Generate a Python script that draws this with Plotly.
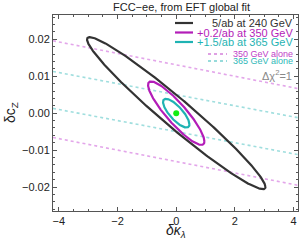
import numpy as np
import plotly.graph_objects as go

# ---- data ----
# Delta chi^2 = 1 ellipses: (label, sigma_kl, sigma_cz, correlation)
ell_labels = ["5/ab at 240 GeV", "+0.2/ab at 350 GeV", "+1.5/ab at 365 GeV"]
ell_sig_kl = [3.04, 0.96, 0.45]
ell_sig_cz = [0.0206, 0.0086, 0.0039]
ell_rho = [-0.97, -0.89, -0.78]
ell_colors = ["#333333", "#b31db8", "#1fb3b3"]

# single-energy bands: y = slope*x +/- halfwidth
band_labels = ["350 GeV alone", "365 GeV alone"]
band_slope = [-0.00155, -0.0015]
band_halfwidth = [0.0131, 0.0050]
band_colors = ["#e3a6ea", "#9fdede"]

best_fit = [0.0, 0.0]

x_range = [-4.2, 4.15]
y_range = [-0.0265, 0.0266]
x_ticks = [-4, -2, 0, 2, 4]
y_ticks = [-0.02, -0.01, 0.0, 0.01, 0.02]

fig = go.Figure()

for s, h, c in zip(band_slope, band_halfwidth, band_colors):
    xs = np.array(x_range)
    for sign in (1, -1):
        fig.add_trace(go.Scatter(x=xs, y=s * xs + sign * h, mode="lines",
                                 line=dict(color=c, width=1.6, dash="dot"),
                                 showlegend=False, hoverinfo="skip"))

t = np.linspace(0, 2 * np.pi, 400)
for sx, sy, r, c in zip(ell_sig_kl, ell_sig_cz, ell_rho, ell_colors):
    ex = sx * np.cos(t)
    ey = sy * (r * np.cos(t) + np.sqrt(1 - r * r) * np.sin(t))
    fig.add_trace(go.Scatter(x=ex, y=ey, mode="lines",
                             line=dict(color=c, width=2.2),
                             showlegend=False, hoverinfo="skip"))

fig.add_trace(go.Scatter(x=[best_fit[0]], y=[best_fit[1]], mode="markers",
                         marker=dict(color="#11ee11", size=6),
                         showlegend=False, hoverinfo="skip"))

L, R, T, B = 53, 1, 15, 37
W, H = 299, 248
pw, ph = W - L - R, H - T - B

def px(xp):
    return (xp - L) / pw

def py(yp):
    return (H - B - yp) / ph

font = "Liberation Sans, Arial, sans-serif"
ann = []
shapes = []
# legend: solid
leg_y = [23, 32.5, 42]
for lab, c, yy in zip(ell_labels, ell_colors, leg_y):
    shapes.append(dict(type="line", xref="paper", yref="paper",
                       x0=px(175), x1=px(193), y0=py(yy), y1=py(yy),
                       line=dict(color=c, width=2.2)))
    ann.append(dict(text=lab, xref="paper", yref="paper", x=px(295), y=py(yy),
                    xanchor="right", yanchor="middle", showarrow=False,
                    font=dict(size=11, color=c, family=font)))
leg_y2 = [54, 61]
for lab, c, yy in zip(band_labels, ["#c040c8", "#30b8b8"], leg_y2):
    shapes.append(dict(type="line", xref="paper", yref="paper",
                       x0=px(208), x1=px(227), y0=py(yy), y1=py(yy),
                       line=dict(color=c, width=1.2, dash="dot")))
    ann.append(dict(text=lab, xref="paper", yref="paper", x=px(295), y=py(yy),
                    xanchor="right", yanchor="middle", showarrow=False,
                    font=dict(size=9, color=c, family=font)))
ann.append(dict(text="Δχ<sup>2</sup>=1", xref="paper", yref="paper", x=px(294), y=py(75),
                xanchor="right", yanchor="middle", showarrow=False,
                font=dict(size=11, color="#888888", family=font)))
ann.append(dict(text="FCC−ee, from EFT global fit", xref="paper", yref="paper",
                x=px(181), y=py(6.5), xanchor="center", yanchor="middle", showarrow=False,
                font=dict(size=11, color="#222222", family=font)))
ann.append(dict(text="δc<sub>Z</sub>", xref="paper", yref="paper",
                x=px(11), y=py(113), xanchor="center", yanchor="middle", showarrow=False,
                textangle=-90, font=dict(size=14, color="#222222", family=font)))
ann.append(dict(text="<i>δκ<sub>λ</sub></i>", xref="paper", yref="paper",
                x=px(176), y=py(231), xanchor="center", yanchor="middle", showarrow=False,
                font=dict(size=14, color="#222222", family=font)))

axis_common = dict(showgrid=False, zeroline=False, showline=True, linecolor="#555555",
                   linewidth=1, mirror="ticks", ticks="inside", ticklen=4, tickwidth=1,
                   tickcolor="#555555", automargin=False,
                   tickfont=dict(size=11, color="#222222", family=font))

fig.update_layout(
    width=W, height=H, margin=dict(l=L, r=R, t=T, b=B, autoexpand=False),
    paper_bgcolor="white", plot_bgcolor="white",
    annotations=ann, shapes=shapes,
    xaxis=dict(range=x_range, tickvals=x_ticks, ticktext=[str(v).replace("-", "−") for v in x_ticks],
               minor=dict(dtick=0.5, ticks="inside", ticklen=2, tickcolor="#555555"),
               **axis_common),
    yaxis=dict(range=y_range, tickvals=y_ticks,
               ticktext=[("%.2f" % v).replace("-", "−") for v in y_ticks],
               minor=dict(dtick=0.002, ticks="inside", ticklen=2, tickcolor="#555555"),
               **axis_common),
)

fig.write_html("out.html", config={"displayModeBar": False},
               post_script="document.body.style.margin='0';document.body.style.padding='0';")
